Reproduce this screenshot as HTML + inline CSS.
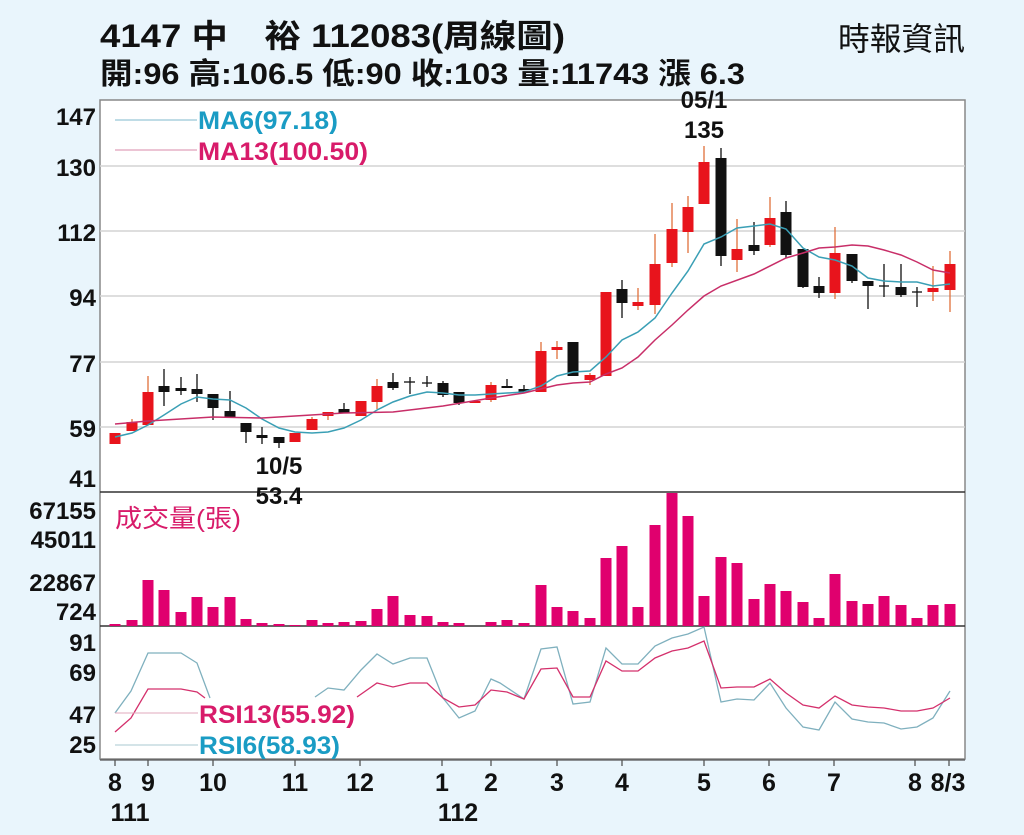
<!DOCTYPE html>
<html><head><meta charset="utf-8"><style>
html,body{margin:0;padding:0;background:#e9f5fc;}
svg{display:block;}
text{font-family:"Liberation Sans","Noto Sans CJK TC",sans-serif;font-weight:bold;}
</style></head><body>
<svg width="1024" height="835" viewBox="0 0 1024 835" xmlns="http://www.w3.org/2000/svg">
<rect x="0" y="0" width="1024" height="835" fill="#e9f5fc"/>
<text x="100" y="47" font-size="32" textLength="465" lengthAdjust="spacingAndGlyphs" fill="#111">4147 中　裕 112083(周線圖)</text>
<text x="838" y="50" font-size="32" textLength="127" lengthAdjust="spacingAndGlyphs" fill="#111" style="font-weight:normal">時報資訊</text>
<text x="100" y="84" font-size="30" textLength="645" lengthAdjust="spacingAndGlyphs" fill="#111">開:96 高:106.5 低:90 收:103 量:11743 漲 6.3</text>

<rect x="100" y="100" width="865" height="659" fill="#fff" stroke="#888" stroke-width="1.5"/>
<g stroke="#d4d4d4" stroke-width="1.5">
<line x1="100" y1="166" x2="965" y2="166"/><line x1="100" y1="231" x2="965" y2="231"/>
<line x1="100" y1="296" x2="965" y2="296"/><line x1="100" y1="362" x2="965" y2="362"/>
<line x1="100" y1="427" x2="965" y2="427"/>
</g>
<line x1="100" y1="492" x2="965" y2="492" stroke="#333" stroke-width="1.5"/>
<line x1="100" y1="626" x2="965" y2="626" stroke="#333" stroke-width="1.5"/>

<g font-size="24" fill="#111" text-anchor="end">
<text x="96" y="125">147</text><text x="96" y="176">130</text><text x="96" y="241">112</text>
<text x="96" y="306">94</text><text x="96" y="372">77</text><text x="96" y="437">59</text><text x="96" y="487">41</text>
<text x="96" y="519">67155</text><text x="96" y="548">45011</text><text x="96" y="591">22867</text><text x="96" y="620">724</text>
<text x="96" y="651">91</text><text x="96" y="681">69</text><text x="96" y="723">47</text><text x="96" y="753">25</text>
</g>

<line x1="115" y1="120" x2="197" y2="120" stroke="#7fb8cc" stroke-width="1"/>
<line x1="115" y1="150" x2="197" y2="150" stroke="#d88aa8" stroke-width="1"/>
<text x="198" y="129" font-size="25" textLength="140" lengthAdjust="spacingAndGlyphs" fill="#1a9cc4">MA6(97.18)</text>
<text x="198" y="160" font-size="25" textLength="170" lengthAdjust="spacingAndGlyphs" fill="#d81b6a">MA13(100.50)</text>
<text x="704" y="108" font-size="24" fill="#111" text-anchor="middle">05/1</text>
<text x="704" y="138" font-size="24" fill="#111" text-anchor="middle">135</text>
<text x="279" y="474" font-size="24" fill="#111" text-anchor="middle">10/5</text>
<text x="279" y="504" font-size="24" fill="#111" text-anchor="middle">53.4</text>

<g stroke-width="1.3">
<g stroke="#e0703a">
<line x1="132" y1="419" x2="132" y2="431"/><line x1="148" y1="376" x2="148" y2="425"/>
<line x1="312" y1="417" x2="312" y2="430"/><line x1="328" y1="412" x2="328" y2="420"/>
<line x1="377" y1="379" x2="377" y2="409"/><line x1="491" y1="382" x2="491" y2="402"/>
<line x1="541" y1="342" x2="541" y2="392"/><line x1="557" y1="341" x2="557" y2="359"/>
<line x1="590" y1="373" x2="590" y2="385"/><line x1="638" y1="288" x2="638" y2="310"/>
<line x1="655" y1="234" x2="655" y2="314"/><line x1="672" y1="203" x2="672" y2="267"/>
<line x1="688" y1="196" x2="688" y2="253"/><line x1="704" y1="146" x2="704" y2="204"/>
<line x1="737" y1="219" x2="737" y2="272"/><line x1="770" y1="197" x2="770" y2="247"/>
<line x1="835" y1="227" x2="835" y2="299"/><line x1="933" y1="266" x2="933" y2="301"/>
<line x1="950" y1="251" x2="950" y2="312"/>
</g>
<g fill="#e8141c">
<rect x="109.5" y="433" width="11" height="11"/><rect x="126.5" y="422" width="11" height="9"/>
<rect x="142.5" y="392" width="11" height="33"/><rect x="289.5" y="433" width="11" height="9"/>
<rect x="306.5" y="419" width="11" height="11"/><rect x="322.5" y="412" width="11" height="4"/>
<rect x="355.5" y="401" width="11" height="15"/><rect x="371.5" y="386" width="11" height="16"/>
<rect x="469.5" y="401" width="11" height="2"/><rect x="485.5" y="385" width="11" height="15"/>
<rect x="535.5" y="351" width="11" height="41"/><rect x="551.5" y="347" width="11" height="3"/>
<rect x="584.5" y="375" width="11" height="5"/><rect x="600.5" y="292" width="11" height="84"/>
<rect x="632.5" y="302" width="11" height="4"/><rect x="649.5" y="264" width="11" height="41"/>
<rect x="666.5" y="229" width="11" height="34"/><rect x="682.5" y="207" width="11" height="25"/>
<rect x="698.5" y="162" width="11" height="42"/><rect x="731.5" y="249" width="11" height="11"/>
<rect x="764.5" y="218" width="11" height="27"/><rect x="829.5" y="253" width="11" height="40"/>
<rect x="927.5" y="288" width="11" height="4"/><rect x="944.5" y="264" width="11" height="26"/>
</g>
<g stroke="#111">
<line x1="164" y1="369" x2="164" y2="406"/><line x1="181" y1="377" x2="181" y2="395"/>
<line x1="197" y1="374" x2="197" y2="402"/><line x1="213" y1="394" x2="213" y2="420"/>
<line x1="230" y1="391" x2="230" y2="418"/><line x1="246" y1="423" x2="246" y2="443"/>
<line x1="262" y1="427" x2="262" y2="444"/><line x1="279" y1="437" x2="279" y2="448"/>
<line x1="344" y1="403" x2="344" y2="413"/><line x1="393" y1="373" x2="393" y2="390"/>
<line x1="410" y1="377" x2="410" y2="394"/><line x1="427" y1="376" x2="427" y2="387"/>
<line x1="443" y1="381" x2="443" y2="397"/><line x1="459" y1="392" x2="459" y2="405"/>
<line x1="507" y1="379" x2="507" y2="388"/><line x1="524" y1="385" x2="524" y2="392"/>
<line x1="573" y1="342" x2="573" y2="376"/><line x1="622" y1="280" x2="622" y2="318"/>
<line x1="721" y1="148" x2="721" y2="266"/><line x1="754" y1="222" x2="754" y2="255"/>
<line x1="786" y1="201" x2="786" y2="258"/><line x1="803" y1="249" x2="803" y2="288"/>
<line x1="819" y1="277" x2="819" y2="298"/><line x1="852" y1="254" x2="852" y2="283"/>
<line x1="868" y1="281" x2="868" y2="309"/><line x1="884" y1="264" x2="884" y2="297"/>
<line x1="901" y1="264" x2="901" y2="297"/><line x1="917" y1="287" x2="917" y2="307"/>
<line x1="422" y1="383" x2="432" y2="383"/><line x1="879" y1="286" x2="889" y2="286"/>
<line x1="912" y1="292" x2="922" y2="292"/><line x1="404" y1="382" x2="415" y2="382"/>
</g>
<g fill="#111">
<rect x="158.5" y="386" width="11" height="6"/><rect x="175.5" y="388" width="11" height="3"/>
<rect x="191.5" y="389" width="11" height="5"/><rect x="207.5" y="394" width="11" height="14"/>
<rect x="224.5" y="411" width="11" height="7"/><rect x="240.5" y="423" width="11" height="9"/>
<rect x="256.5" y="435" width="11" height="3"/><rect x="273.5" y="437" width="11" height="6"/>
<rect x="338.5" y="409" width="11" height="4"/><rect x="387.5" y="382" width="11" height="6"/>
<rect x="437.5" y="383" width="11" height="12"/><rect x="453.5" y="392" width="11" height="11"/>
<rect x="501.5" y="386" width="11" height="2"/><rect x="518.5" y="389" width="11" height="3"/>
<rect x="567.5" y="342" width="11" height="34"/><rect x="616.5" y="289" width="11" height="14"/>
<rect x="715.5" y="158" width="11" height="98"/><rect x="748.5" y="245" width="11" height="6"/>
<rect x="780.5" y="212" width="11" height="43"/><rect x="797.5" y="249" width="11" height="38"/>
<rect x="813.5" y="286" width="11" height="7"/><rect x="846.5" y="254" width="11" height="27"/>
<rect x="862.5" y="281" width="11" height="5"/><rect x="895.5" y="287" width="11" height="8"/>
</g>
</g>

<polyline fill="none" stroke="#3a9fb5" stroke-width="1.5" points="115,437 132,433 148,425 164,415 181,404 197,397 213,399 230,400 246,408 262,419 279,428 295,432 312,433 328,432 344,428 361,420 377,410 393,402 410,396 427,392 443,393 459,395 475,395 491,394 507,393 524,392 541,386 557,376 573,372 590,371 606,357 622,340 638,332 655,318 672,293 688,271 704,244 721,237 737,228 754,226 770,224 786,229 803,248 819,257 835,260 852,266 868,278 884,281 901,282 917,282 933,286 950,284"/>
<polyline fill="none" stroke="#c82e68" stroke-width="1.5" points="115,424 148,421 213,417 262,418 295,416 344,413 393,412 443,406 491,398 524,393 557,385 573,383 590,382 606,374 622,368 638,357 655,340 672,325 688,310 704,296 721,286 754,274 786,258 803,253 819,248 835,247 852,245 868,246 884,250 901,255 917,262 933,270 950,273"/>

<g fill="#e0006e">
<rect x="109.5" y="624" width="11" height="2"/><rect x="126.5" y="620" width="11" height="6"/>
<rect x="142.5" y="580" width="11" height="46"/><rect x="158.5" y="590" width="11" height="36"/>
<rect x="175.5" y="612" width="11" height="14"/><rect x="191.5" y="597" width="11" height="29"/>
<rect x="207.5" y="607" width="11" height="19"/><rect x="224.5" y="597" width="11" height="29"/>
<rect x="240.5" y="619" width="11" height="7"/><rect x="256.5" y="623" width="11" height="3"/>
<rect x="273.5" y="624" width="11" height="2"/><rect x="289.5" y="625" width="11" height="1"/>
<rect x="306.5" y="620" width="11" height="6"/><rect x="322.5" y="623" width="11" height="3"/>
<rect x="338.5" y="622" width="11" height="4"/><rect x="355.5" y="621" width="11" height="5"/>
<rect x="371.5" y="609" width="11" height="17"/><rect x="387.5" y="596" width="11" height="30"/>
<rect x="404.5" y="615" width="11" height="11"/><rect x="421.5" y="616" width="11" height="10"/>
<rect x="437.5" y="622" width="11" height="4"/><rect x="453.5" y="623" width="11" height="3"/>
<rect x="485.5" y="622" width="11" height="4"/><rect x="501.5" y="620" width="11" height="6"/>
<rect x="518.5" y="623" width="11" height="3"/><rect x="535.5" y="585" width="11" height="41"/>
<rect x="551.5" y="607" width="11" height="19"/><rect x="567.5" y="611" width="11" height="15"/>
<rect x="584.5" y="618" width="11" height="8"/><rect x="600.5" y="558" width="11" height="68"/>
<rect x="616.5" y="546" width="11" height="80"/><rect x="632.5" y="607" width="11" height="19"/>
<rect x="649.5" y="525" width="11" height="101"/><rect x="666.5" y="493" width="11" height="133"/>
<rect x="682.5" y="516" width="11" height="110"/><rect x="698.5" y="596" width="11" height="30"/>
<rect x="715.5" y="557" width="11" height="69"/><rect x="731.5" y="563" width="11" height="63"/>
<rect x="748.5" y="599" width="11" height="27"/><rect x="764.5" y="584" width="11" height="42"/>
<rect x="780.5" y="591" width="11" height="35"/><rect x="797.5" y="602" width="11" height="24"/>
<rect x="813.5" y="618" width="11" height="8"/><rect x="829.5" y="574" width="11" height="52"/>
<rect x="846.5" y="601" width="11" height="25"/><rect x="862.5" y="604" width="11" height="22"/>
<rect x="878.5" y="596" width="11" height="30"/><rect x="895.5" y="605" width="11" height="21"/>
<rect x="911.5" y="618" width="11" height="8"/><rect x="927.5" y="605" width="11" height="21"/>
<rect x="944.5" y="604" width="11" height="22"/>
</g>
<text x="115" y="527" font-size="25" textLength="126" lengthAdjust="spacingAndGlyphs" fill="#d81b6a" style="font-weight:normal">成交量(張)</text>

<polyline fill="none" stroke="#7fb0be" stroke-width="1.3" points="115,713 131,691 148,653 164,653 181,653 197,663 210,698"/>
<polyline fill="none" stroke="#7fb0be" stroke-width="1.3" points="315,697 328,688 344,690 361,670 377,654 393,664 410,658 427,658 443,698 459,718 475,711 491,679 500,683 524,699 541,649 557,647 573,704 590,702 606,648 622,664 638,664 655,646 672,638 688,634 704,627 721,702 737,699 754,700 770,683 786,708 803,727 819,730 835,702 852,719 868,722 884,723 901,729 917,727 933,718 950,691"/>
<polyline fill="none" stroke="#d4306c" stroke-width="1.3" points="115,732 131,718 148,689 164,689 181,689 197,692 205,698"/>
<polyline fill="none" stroke="#d4306c" stroke-width="1.3" points="357,697 377,683 393,687 410,683 427,683 443,698 459,707 475,705 491,690 507,692 524,699 541,669 557,668 573,697 590,697 606,661 622,671 638,671 655,658 672,651 688,648 704,641 721,688 737,687 754,687 770,679 786,693 803,705 819,708 835,696 852,705 868,707 884,708 901,711 917,711 933,708 950,698"/>
<line x1="115" y1="713" x2="198" y2="713" stroke="#e0a8bc" stroke-width="1"/>
<line x1="115" y1="745" x2="198" y2="745" stroke="#a8c8d2" stroke-width="1"/>
<text x="199" y="723" font-size="25" textLength="156" lengthAdjust="spacingAndGlyphs" fill="#d81b6a">RSI13(55.92)</text>
<text x="199" y="754" font-size="25" textLength="141" lengthAdjust="spacingAndGlyphs" fill="#1a9cc4">RSI6(58.93)</text>

<g stroke="#555" stroke-width="1.3">
<line x1="100" y1="760" x2="965" y2="760"/>
<line x1="115" y1="760" x2="115" y2="766"/><line x1="148" y1="760" x2="148" y2="766"/>
<line x1="213" y1="760" x2="213" y2="766"/><line x1="295" y1="760" x2="295" y2="766"/>
<line x1="360" y1="760" x2="360" y2="766"/><line x1="442" y1="760" x2="442" y2="766"/>
<line x1="491" y1="760" x2="491" y2="766"/><line x1="557" y1="760" x2="557" y2="766"/>
<line x1="622" y1="760" x2="622" y2="766"/><line x1="704" y1="760" x2="704" y2="766"/>
<line x1="769" y1="760" x2="769" y2="766"/><line x1="834" y1="760" x2="834" y2="766"/>
<line x1="915" y1="760" x2="915" y2="766"/><line x1="949" y1="760" x2="949" y2="766"/>
</g>
<g font-size="25" fill="#111" text-anchor="middle">
<text x="115" y="791">8</text><text x="148" y="791">9</text><text x="213" y="791">10</text>
<text x="295" y="791">11</text><text x="360" y="791">12</text><text x="442" y="791">1</text>
<text x="491" y="791">2</text><text x="557" y="791">3</text><text x="622" y="791">4</text>
<text x="704" y="791">5</text><text x="769" y="791">6</text><text x="834" y="791">7</text>
<text x="915" y="791">8</text><text x="948" y="791">8/3</text>
<text x="130" y="821">111</text><text x="458" y="821">112</text>
</g>
</svg>
</body></html>
